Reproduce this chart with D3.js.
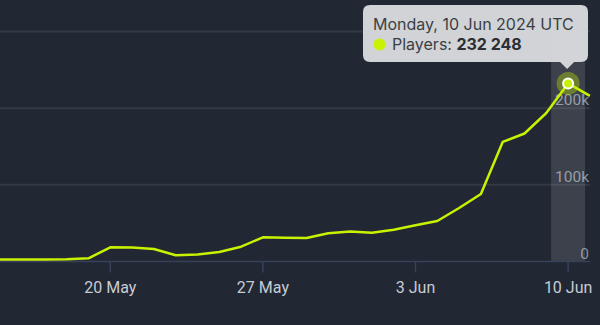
<!DOCTYPE html>
<html>
<head>
<meta charset="utf-8">
<script src="https://cdn.jsdelivr.net/npm/d3@7"></script>
<style>
  html, body { margin: 0; padding: 0; background: #212733; }
  svg { display: block; font-family: Roboto, "Noto Sans", sans-serif; }
</style>
</head>
<body>
<svg id="chart" width="600" height="325"></svg>
<script>
// daily peak players
const days = ["2024-05-14", "2024-05-15", "2024-05-16", "2024-05-17", "2024-05-18",
  "2024-05-19", "2024-05-20", "2024-05-21", "2024-05-22", "2024-05-23", "2024-05-24",
  "2024-05-25", "2024-05-26", "2024-05-27", "2024-05-28", "2024-05-29", "2024-05-30",
  "2024-05-31", "2024-06-01", "2024-06-02", "2024-06-03", "2024-06-04", "2024-06-05",
  "2024-06-06", "2024-06-07", "2024-06-08", "2024-06-09", "2024-06-10", "2024-06-11"];
const players = [2500, 2500, 2500, 2500, 2900, 4200, 18500, 18300, 16300, 8100, 9100,
  12400, 19300, 31600, 31000, 30700, 36800, 39000, 37600, 41500, 47200, 52800, 69800,
  88000, 156000, 167000, 193700, 232248, 216000];

const xTicks = ["2024-05-20", "2024-05-27", "2024-06-03", "2024-06-10"];
const yTicks = [0, 100000, 200000, 300000];
const yLabels = ["0", "100k", "200k"]; // 300k sits under the tooltip
const hoverDay = "2024-06-10";

const data = days.map((d, i) => ({ date: new Date(d), v: players[i] }));

const svg = d3.select("#chart");
const right = 590;

let x = d3.scaleUtc()
  .domain([new Date("2024-05-20"), new Date("2024-06-10")])
  .range([110.3, 568.1]);
let y = d3.scaleLinear().domain([0, 300000]).range([261.5, 31.5]);

// grid
svg.append("g").selectAll("line")
  .data(yTicks.filter(t => t > 0))
  .join("line")
  .attr("x1", 0).attr("x2", right)
  .attr("y1", d => y(d)).attr("y2", d => y(d))
  .attr("stroke", "#323945").attr("stroke-width", 2);

// y labels
svg.append("g").selectAll("text")
  .data(yLabels)
  .join("text")
  .attr("x", right - 1)
  .attr("y", (d, i) => y(yTicks[i]) - 3)
  .attr("text-anchor", "end")
  .attr("font-size", 15.5)
  .attr("fill", "#8a919b")
  .text(d => d);

// hover band
const hx = x(new Date(hoverDay));
svg.append("rect")
  .attr("x", hx - 17).attr("width", 34)
  .attr("y", y(300000)).attr("height", y(0) - y(300000))
  .attr("fill", "#ffffff").attr("opacity", 0.12);

// x axis
svg.append("line")
  .attr("x1", 0).attr("x2", right)
  .attr("y1", y(0)).attr("y2", y(0))
  .attr("stroke", "#37425a").attr("stroke-width", 1.5);

let xg = svg.append("g").selectAll("g")
  .data(xTicks.map(d => new Date(d)))
  .join("g")
  .attr("transform", d => `translate(${x(d)},${y(0)})`);
xg.append("line").attr("y2", 11).attr("stroke", "#37425a").attr("stroke-width", 1.5);
xg.append("text")
  .attr("y", 31).attr("text-anchor", "middle")
  .attr("font-size", 16).attr("fill", "#c7ccd3")
  .text(d => d3.utcFormat("%-d %b")(d));

// line
let line = d3.line().x(d => x(d.date)).y(d => y(d.v));
svg.append("path")
  .datum(data)
  .attr("d", line)
  .attr("fill", "none")
  .attr("stroke", "#c9f200")
  .attr("stroke-width", 2.5)
  .attr("stroke-linejoin", "round");

// hovered point
const hp = data.find(d => +d.date === +new Date(hoverDay));
svg.append("circle").attr("cx", x(hp.date)).attr("cy", y(hp.v)).attr("r", 11.5)
  .attr("fill", "#c9f200").attr("opacity", 0.35);
svg.append("circle").attr("cx", x(hp.date)).attr("cy", y(hp.v)).attr("r", 5)
  .attr("fill", "#c9f200").attr("stroke", "#ffffff").attr("stroke-width", 2);

// tooltip
const tip = svg.append("g").attr("font-family", "Inter, Roboto, sans-serif");
const tx = 363, ty = 5, tw = 225, th = 57;
const px = x(hp.date) - 1;
tip.append("path")
  .attr("d", `M${tx + 7},${ty} H${tx + tw - 7} Q${tx + tw},${ty} ${tx + tw},${ty + 7} V${ty + th - 7} Q${tx + tw},${ty + th} ${tx + tw - 7},${ty + th}
    H${px + 7} L${px},${ty + th + 7} L${px - 7},${ty + th} H${tx + 7} Q${tx},${ty + th} ${tx},${ty + th - 7} V${ty + 7} Q${tx},${ty} ${tx + 7},${ty} Z`)
  .attr("fill", "#d7d9dc").attr("opacity", 0.97);
tip.append("text")
  .attr("x", tx + 10).attr("y", ty + 25)
  .attr("font-size", 16).attr("fill", "#3b3f45")
  .text(d3.utcFormat("%A, %-d %b %Y")(hp.date) + " UTC");
tip.append("circle").attr("cx", tx + 16.5).attr("cy", ty + 39.5).attr("r", 6)
  .attr("fill", "#c9f200");
let t2 = tip.append("text")
  .attr("x", tx + 29).attr("y", ty + 45)
  .attr("font-size", 16).attr("fill", "#3b3f45");
t2.append("tspan").text("Players: ");
t2.append("tspan").attr("font-weight", "bold").attr("fill", "#2b2e33")
  .text(d3.format(",")(hp.v).replace(/,/g, " "));
</script>
</body>
</html>
